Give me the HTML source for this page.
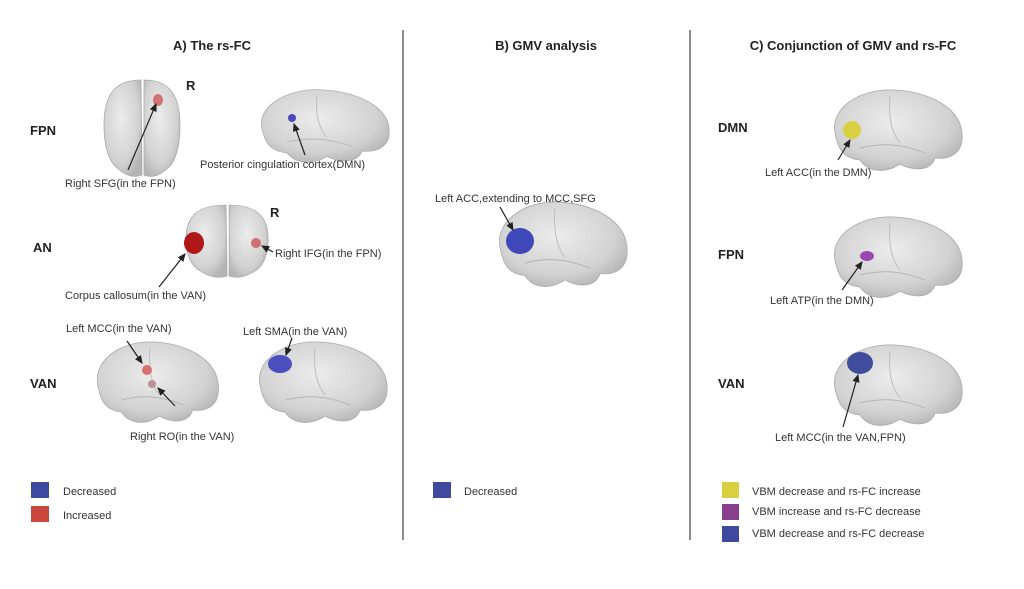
<!DOCTYPE html>
<html><head><meta charset="utf-8"><style>
html,body{margin:0;padding:0;background:#fff}
svg{display:block;font-family:"Liberation Sans",sans-serif}
</style></head><body>
<svg width="1024" height="589" viewBox="0 0 1024 589">
<defs>
<radialGradient id="g" cx="45%" cy="40%" r="65%"><stop offset="0" stop-color="#ececec"/><stop offset="0.7" stop-color="#d2d2d2"/><stop offset="1" stop-color="#b4b4b4"/></radialGradient>
<g id="sag"><path d="M5,45 C0,20 30,0 65,2 C100,4 130,20 132,45 C134,65 120,72 105,70 C100,85 80,82 70,76 C55,86 38,84 30,72 C12,70 8,60 5,45 Z" fill="url(#g)" stroke="#aaa" stroke-width="0.8"/>
<path d="M30,60 C50,55 70,55 95,65" fill="none" stroke="#b5b5b5"/><path d="M60,8 C58,30 62,45 70,55" fill="none" stroke="#bdbdbd"/></g>
<g id="cor"><path d="M0,45 C0,10 15,0 37,0 L38,95 C25,100 15,90 10,85 C2,75 0,60 0,45Z" fill="url(#g)" stroke="#aaa" stroke-width="0.8"/>
<path d="M76,45 C76,10 61,0 40,0 L40,95 C52,100 62,90 67,85 C74,75 76,60 76,45Z" fill="url(#g)" stroke="#aaa" stroke-width="0.8"/></g>
<marker id="a" markerWidth="8" markerHeight="8" refX="6" refY="4" orient="auto"><path d="M0,1 L7,4 L0,7Z" fill="#222"/></marker>
</defs>
<g font-size="13" font-weight="bold" fill="#222" text-anchor="middle">
<text x="212" y="50">A) The rs-FC</text><text x="546" y="50">B) GMV analysis</text><text x="853" y="50">C) Conjunction of GMV and rs-FC</text></g>
<line x1="403" y1="30" x2="403" y2="540" stroke="#666" stroke-width="1.5"/>
<line x1="690" y1="30" x2="690" y2="540" stroke="#666" stroke-width="1.5"/>
<g font-size="13" font-weight="bold" fill="#222">
<text x="30" y="135">FPN</text><text x="33" y="252">AN</text><text x="30" y="388">VAN</text>
<text x="186" y="90">R</text><text x="270" y="217">R</text>
<text x="718" y="132">DMN</text><text x="718" y="259">FPN</text><text x="718" y="388">VAN</text></g>
<!-- A -->
<use href="#cor" transform="translate(104,80)"/>
<ellipse cx="158" cy="100" rx="5" ry="6" fill="#d06060" opacity="0.85"/>
<use href="#sag" transform="translate(257,88) scale(1,0.9)"/>
<circle cx="292" cy="118" r="4" fill="#4848b8"/>
<use href="#cor" transform="translate(186,205) scale(1.08,0.75)"/>
<ellipse cx="194" cy="243" rx="10" ry="11" fill="#b01818"/>
<circle cx="256" cy="243" r="5" fill="#d07070"/>
<use href="#sag" transform="translate(93,340) scale(0.95,1)"/>
<circle cx="147" cy="370" r="5" fill="#d87070"/><circle cx="152" cy="384" r="4" fill="#c09098"/>
<use href="#sag" transform="translate(255,340) scale(1,1)"/>
<ellipse cx="280" cy="364" rx="12" ry="9" fill="#4a50c0"/>
<!-- B -->
<use href="#sag" transform="translate(495,200) scale(1,1.05)"/>
<ellipse cx="520" cy="241" rx="14" ry="13" fill="#3f48b8"/>
<!-- C -->
<use href="#sag" transform="translate(830,88)"/>
<ellipse cx="852" cy="130" rx="9" ry="9" fill="#d8d040"/>
<use href="#sag" transform="translate(830,215)"/>
<ellipse cx="867" cy="256" rx="7" ry="5" fill="#9848b0"/>
<use href="#sag" transform="translate(830,343)"/>
<ellipse cx="860" cy="363" rx="13" ry="11" fill="#404c9c"/>
<g stroke="#222" stroke-width="1.2" marker-end="url(#a)">
<line x1="128" y1="170" x2="156" y2="104"/>
<line x1="305" y1="155" x2="294" y2="124"/>
<line x1="159" y1="287" x2="185" y2="254"/>
<line x1="273" y1="252" x2="262" y2="246"/>
<line x1="127" y1="341" x2="142" y2="363"/>
<line x1="175" y1="406" x2="158" y2="388"/>
<line x1="292" y1="338" x2="286" y2="355"/>
<line x1="500" y1="207" x2="513" y2="230"/>
<line x1="838" y1="160" x2="850" y2="140"/>
<line x1="842" y1="290" x2="862" y2="262"/>
<line x1="843" y1="427" x2="858" y2="375"/>
</g>
<g font-size="11" fill="#333">
<text x="65" y="187">Right SFG(in the FPN)</text>
<text x="200" y="168">Posterior cingulation cortex(DMN)</text>
<text x="275" y="257">Right IFG(in the FPN)</text>
<text x="65" y="299">Corpus callosum(in the VAN)</text>
<text x="66" y="332">Left MCC(in the VAN)</text>
<text x="243" y="335">Left SMA(in the VAN)</text>
<text x="130" y="440">Right RO(in the VAN)</text>
<text x="435" y="202">Left ACC,extending to MCC,SFG</text>
<text x="765" y="176">Left ACC(in the DMN)</text>
<text x="770" y="304">Left ATP(in the DMN)</text>
<text x="775" y="441">Left MCC(in the VAN,FPN)</text>
<text x="63" y="495">Decreased</text><text x="63" y="519">Increased</text>
<text x="464" y="495">Decreased</text>
<text x="752" y="495">VBM decrease and rs-FC increase</text>
<text x="752" y="515">VBM increase and rs-FC decrease</text>
<text x="752" y="537">VBM decrease and rs-FC decrease</text>
</g>
<rect x="31" y="482" width="18" height="16" fill="#3d4aa0"/>
<rect x="31" y="506" width="18" height="16" fill="#c9463c"/>
<rect x="433" y="482" width="18" height="16" fill="#3d4aa0"/>
<rect x="722" y="482" width="17" height="16" fill="#d8d040"/>
<rect x="722" y="504" width="17" height="16" fill="#8a3f8c"/>
<rect x="722" y="526" width="17" height="16" fill="#3d4aa0"/>
</svg>
</body></html>
